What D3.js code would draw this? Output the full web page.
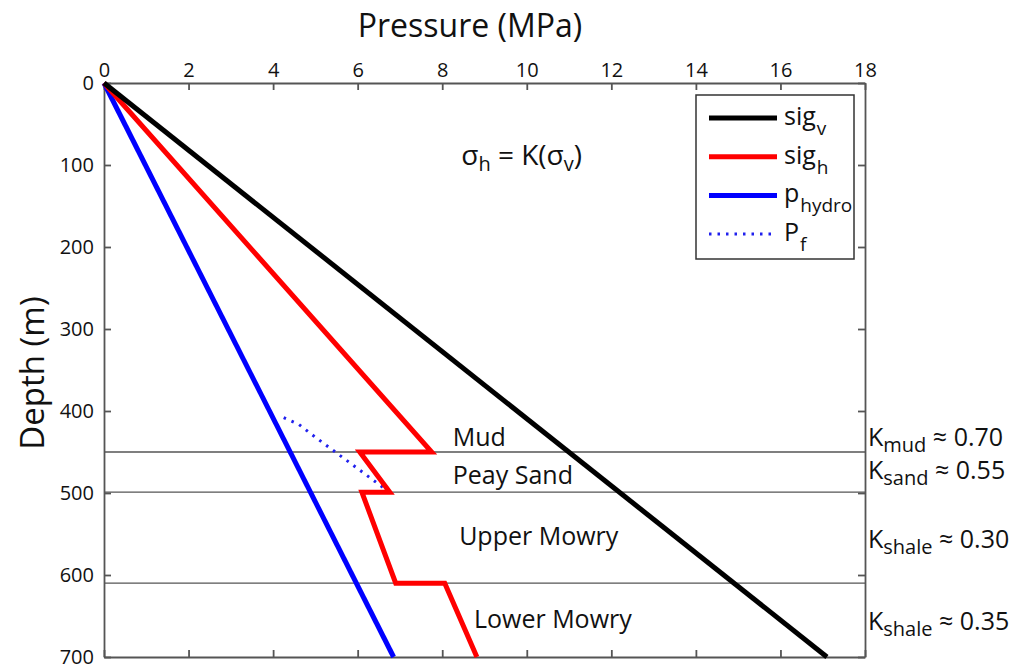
<!DOCTYPE html>
<html>
<head>
<meta charset="utf-8">
<script src="https://cdnjs.cloudflare.com/ajax/libs/d3/7.8.5/d3.min.js"></script>
<style>
  body { margin: 0; background: #fff; font-family: "Open Sans", sans-serif; }
  text { fill: #111; }
</style>
</head>
<body>
<svg width="1018" height="669"></svg>
<script>
// pressure (MPa) vs depth (m)
var xTicks = [0, 2, 4, 6, 8, 10, 12, 14, 16, 18];
var yTicks = [0, 100, 200, 300, 400, 500, 600, 700];

var sigV = [[0, 0], [17.1, 700]];
var sigH = [[0, 0], [7.75, 450], [6.05, 450], [6.76, 499], [6.1, 499], [6.9, 610], [8.06, 610], [8.82, 700]];
var pHydro = [[0, 0], [6.85, 700]];
var pF = [[4.25, 408], [4.6, 416], [5.0, 432], [6.7, 497]];

var boundaries = [450, 499, 610];
var layerNames = ["Mud", "Peay Sand", "Upper Mowry", "Lower Mowry"];
var layerDepths = [443, 489, 564, 665];
var layerP = [8.25, 8.25, 8.4, 8.75];
var kNames = ["mud", "sand", "shale", "shale"];
var kValues = ["0.70", "0.55", "0.30", "0.35"];
var kDepths = [443, 483, 567, 667];

var svg = d3.select("svg");
var mLeft = 104, mRight = 865, mTop = 83, mBottom = 657;

var x = d3.scaleLinear().domain([0, 18]).range([mLeft, mRight]);
var y = d3.scaleLinear().domain([0, 700]).range([mTop, mBottom]);

// layer boundaries
svg.selectAll(".bnd").data(boundaries).enter().append("line")
  .attr("x1", mLeft).attr("x2", mRight)
  .attr("y1", d => y(d)).attr("y2", d => y(d))
  .attr("stroke", "#555").attr("stroke-width", 1.3);

// axes
var axTop = svg.append("g").attr("transform", "translate(0," + mTop + ")")
  .call(d3.axisTop(x).tickValues(xTicks).tickSizeInner(-7).tickSizeOuter(0).tickPadding(6));
var axBot = svg.append("g").attr("transform", "translate(0," + mBottom + ")")
  .call(d3.axisBottom(x).tickValues(xTicks).tickSizeInner(-7).tickSizeOuter(0).tickFormat(""));
var axLeft = svg.append("g").attr("transform", "translate(" + mLeft + ",0)")
  .call(d3.axisLeft(y).tickValues(yTicks).tickSizeInner(-7).tickSizeOuter(0).tickPadding(10));
var axRight = svg.append("g").attr("transform", "translate(" + mRight + ",0)")
  .call(d3.axisRight(y).tickValues(yTicks).tickSizeInner(-7).tickSizeOuter(0).tickFormat(""));

[axTop, axBot, axLeft, axRight].forEach(function(a) {
  a.selectAll("path, line").attr("stroke", "#555").attr("stroke-width", 1.8);
  a.selectAll("text").style("font-size", "20px").style("font-family", "Open Sans, sans-serif").attr("fill", "#111");
});

// curves
var line = d3.line().x(d => x(d[0])).y(d => y(d[1]));

svg.append("path").datum(pF).attr("d", line)
  .attr("fill", "none").attr("stroke", "#2020ee").attr("stroke-width", 3)
  .attr("stroke-dasharray", "2.5,6");
svg.append("path").datum(pHydro).attr("d", line)
  .attr("fill", "none").attr("stroke", "#0000ff").attr("stroke-width", 5);
svg.append("path").datum(sigH).attr("d", line)
  .attr("fill", "none").attr("stroke", "#ff0000").attr("stroke-width", 5)
  .attr("stroke-linejoin", "miter");
svg.append("path").datum(sigV).attr("d", line)
  .attr("fill", "none").attr("stroke", "#000").attr("stroke-width", 5);

// layer names
svg.selectAll(".layer").data(layerNames).enter().append("text")
  .attr("x", (d, i) => x(layerP[i]))
  .attr("y", (d, i) => y(layerDepths[i]))
  .attr("text-anchor", "start")
  .style("font-size", "25px")
  .text(d => d);

// K labels on the right
var kt = svg.selectAll(".k").data(kNames).enter().append("text")
  .attr("x", mRight + 3)
  .attr("y", (d, i) => y(kDepths[i]))
  .style("font-size", "25px");
kt.append("tspan").text("K");
kt.append("tspan").attr("dy", 6).style("font-size", "20px").text(d => d);
kt.append("tspan").attr("dy", -6).text((d, i) => " \u2248 " + kValues[i]);

// formula
var f = svg.append("text").attr("x", x(8.45)).attr("y", y(100)).style("font-size", "28px");
f.append("tspan").text("\u03c3");
f.append("tspan").attr("dy", 6).style("font-size", "20px").text("h");
f.append("tspan").attr("dy", -6).text(" = K(\u03c3");
f.append("tspan").attr("dy", 6).style("font-size", "20px").text("v");
f.append("tspan").attr("dy", -6).text(")");

// legend
var legend = [
  { name: "sig", sub: "v", color: "#000", dash: null, w: 5 },
  { name: "sig", sub: "h", color: "#ff0000", dash: null, w: 5 },
  { name: "p", sub: "hydro", color: "#0000ff", dash: null, w: 5 },
  { name: "P", sub: "f", color: "#2020ee", dash: "2.5,6", w: 3 }
];
svg.append("rect").attr("x", 696).attr("y", 95).attr("width", 158).attr("height", 164)
  .attr("fill", "#fff").attr("stroke", "#333").attr("stroke-width", 1.5);
var lg = svg.selectAll(".lg").data(legend).enter().append("g")
  .attr("transform", (d, i) => "translate(709," + (118 + i * 38.7) + ")");
lg.append("line").attr("x1", 0).attr("x2", 68)
  .attr("stroke", d => d.color).attr("stroke-width", d => d.w)
  .attr("stroke-dasharray", d => d.dash);
var lt = lg.append("text").attr("x", 75).attr("y", 7).style("font-size", "25px");
lt.append("tspan").text(d => d.name);
lt.append("tspan").attr("dx", 1).attr("dy", 10).style("font-size", "19px").text(d => d.sub);

// axis titles
svg.append("text").attr("x", 470).attr("y", 37)
  .attr("text-anchor", "middle").style("font-size", "32px").text("Pressure (MPa)");
svg.append("text").attr("transform", "translate(44," + 373 + ") rotate(-90)")
  .attr("text-anchor", "middle").style("font-size", "33px").text("Depth (m)");
</script>
</body>
</html>
